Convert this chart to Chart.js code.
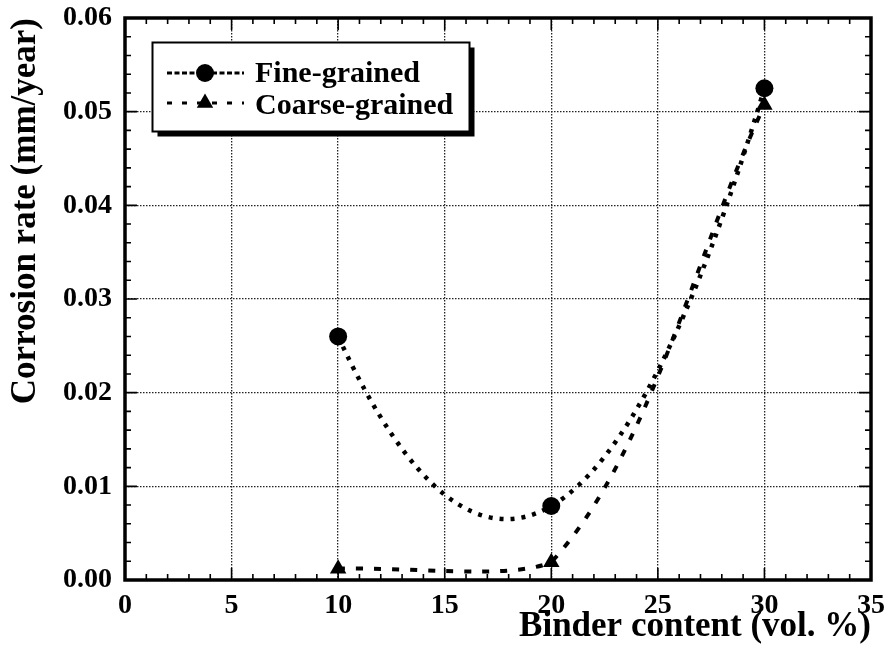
<!DOCTYPE html>
<html lang="en">
<head>
<meta charset="UTF-8">
<title>Corrosion rate vs binder content</title>
<script src="https://cdn.jsdelivr.net/npm/chart.js"></script>
<style>
  html, body { margin: 0; background: #fff; }
  #wrap { width: 889px; height: 662px; }
</style>
</head>
<body>
<div id="wrap"><canvas id="chart" width="889" height="662"></canvas></div>
<script>
  // measured corrosion rates (mm/year) against binder content (vol. %)
  const binder = [10, 20, 30];
  const fineRate = [0.0260, 0.0079, 0.0525];
  const coarseRate = [0.0012, 0.0019, 0.0507];
  const seriesNames = ['Fine-grained', 'Coarse-grained'];
  const xTicks = [0, 5, 10, 15, 20, 25, 30, 35];
  const yTicks = [0, 0.01, 0.02, 0.03, 0.04, 0.05, 0.06];

  const serif = "'Liberation Serif', 'Times New Roman', Times, serif";

  // fine curve: tangent at inner points from the neighbours, end spans as parabolas
  const evenSpline = {
    id: 'evenSpline',
    beforeDatasetDraw(chart, args) {
      if (!chart.data.datasets[args.index].evenSpline) return;
      args.meta.dataset.updateControlPoints(chart.chartArea, 'x');
      const p = args.meta.data;
      const n = p.length;
      if (n < 3) return;
      for (let i = 1; i < n - 1; i++) {
        const m = (p[i + 1].y - p[i - 1].y) / (p[i + 1].x - p[i - 1].x);
        const hl = (p[i].x - p[i - 1].x) / 3;
        const hr = (p[i + 1].x - p[i].x) / 3;
        p[i].cp1x = p[i].x - hl; p[i].cp1y = p[i].y - m * hl;
        p[i].cp2x = p[i].x + hr; p[i].cp2y = p[i].y + m * hr;
      }
      const endCp = (end, nb, cpx, cpy) => {
        const qx = nb.x + 1.5 * (cpx - nb.x);
        const qy = nb.y + 1.5 * (cpy - nb.y);
        return [end.x + (qx - end.x) * 2 / 3, end.y + (qy - end.y) * 2 / 3];
      };
      [p[0].cp2x, p[0].cp2y] = endCp(p[0], p[1], p[1].cp1x, p[1].cp1y);
      [p[n - 1].cp1x, p[n - 1].cp1y] = endCp(p[n - 1], p[n - 2], p[n - 2].cp2x, p[n - 2].cp2y);
    }
  };

  // heavy frame with inward major/minor ticks on all four sides
  const frameTicks = {
    id: 'frameTicks',
    beforeDatasetsDraw(chart) {
      const { ctx, chartArea: a, scales: { x, y } } = chart;
      ctx.save();
      ctx.strokeStyle = '#000';
      ctx.lineWidth = 1.6;
      ctx.beginPath();
      for (let k = 0; k <= 35; k++) {
        const px = x.getPixelForValue(k);
        const len = k % 5 === 0 ? 12 : 6;
        ctx.moveTo(px, a.bottom); ctx.lineTo(px, a.bottom - len);
        ctx.moveTo(px, a.top); ctx.lineTo(px, a.top + len);
      }
      for (let k = 0; k <= 30; k++) {
        const py = y.getPixelForValue(k * 0.002);
        const len = k % 5 === 0 ? 12 : 6;
        ctx.moveTo(a.left, py); ctx.lineTo(a.left + len, py);
        ctx.moveTo(a.right, py); ctx.lineTo(a.right - len, py);
      }
      ctx.stroke();
      ctx.lineWidth = 3.5;
      ctx.strokeRect(a.left, a.top, a.right - a.left, a.bottom - a.top);
      ctx.restore();
    }
  };

  function marker(ctx, style, x, y, r) {
    ctx.beginPath();
    if (style === 'triangle') {
      ctx.moveTo(x, y - r);
      ctx.lineTo(x + r * Math.sin(2 * Math.PI / 3), y - r * Math.cos(2 * Math.PI / 3));
      ctx.lineTo(x + r * Math.sin(4 * Math.PI / 3), y - r * Math.cos(4 * Math.PI / 3));
      ctx.closePath();
    } else {
      ctx.arc(x, y, r, 0, Math.PI * 2);
    }
    ctx.fill();
  }

  // boxed legend with a drop shadow
  const boxLegend = {
    id: 'boxLegend',
    afterDraw(chart) {
      const ctx = chart.ctx;
      const bx = 152.5, by = 42.5, bw = 317, bh = 89;
      const rows = [
        { y: 73, dash: [5, 2.5], base: 82 },
        { y: 103, dash: [5, 10], base: 114 }
      ];
      ctx.save();
      ctx.fillStyle = '#000';
      ctx.fillRect(bx + 5, by + 5, bw, bh);
      ctx.fillStyle = '#fff';
      ctx.fillRect(bx, by, bw, bh);
      ctx.strokeStyle = '#000';
      ctx.lineWidth = 2;
      ctx.strokeRect(bx, by, bw, bh);
      chart.data.datasets.forEach((ds, i) => {
        const row = rows[i];
        ctx.strokeStyle = ds.borderColor;
        ctx.lineWidth = 3;
        ctx.setLineDash(row.dash);
        ctx.beginPath();
        ctx.moveTo(167, row.y);
        ctx.lineTo(244, row.y);
        ctx.stroke();
        ctx.setLineDash([]);
        ctx.fillStyle = ds.backgroundColor;
        marker(ctx, ds.pointStyle, 205, row.y, ds.pointRadius);
        ctx.fillStyle = '#000';
        ctx.font = 'bold 30px ' + serif;
        ctx.textAlign = 'left';
        ctx.textBaseline = 'alphabetic';
        ctx.fillText(ds.label, 255, row.base);
      });
      ctx.restore();
    }
  };

  const tickFont = { family: serif, size: 28, weight: 'bold' };
  const titleFont = { family: serif, size: 35, weight: 'bold', lineHeight: 1 };

  new Chart(document.getElementById('chart'), {
    type: 'line',
    data: {
      datasets: [
        {
          label: seriesNames[0],
          data: binder.map((x, i) => ({ x: x, y: fineRate[i] })),
          borderColor: '#000',
          backgroundColor: '#000',
          borderWidth: 4.5,
          borderDash: [4, 7],
          pointStyle: 'circle',
          pointRadius: 9,
          pointBorderWidth: 0,
          tension: 0.4,
          evenSpline: true
        },
        {
          label: seriesNames[1],
          data: binder.map((x, i) => ({ x: x, y: coarseRate[i] })),
          borderColor: '#000',
          backgroundColor: '#000',
          borderWidth: 4,
          borderDash: [7, 11],
          pointStyle: 'triangle',
          pointRadius: 9.5,
          pointBorderWidth: 0,
          tension: 0.33
        }
      ]
    },
    options: {
      responsive: false,
      animation: false,
      layout: { padding: { left: 0, right: 18, top: 18, bottom: 0 } },
      plugins: { legend: { display: false }, tooltip: { enabled: false } },
      scales: {
        x: {
          type: 'linear',
          min: 0,
          max: 35,
          afterBuildTicks: s => { s.ticks = xTicks.map(v => ({ value: v })); },
          afterFit: s => { s.height = 82; s.paddingLeft = 0; s.paddingRight = 0; },
          ticks: { color: '#000', font: tickFont, padding: 9, maxRotation: 0, autoSkip: false },
          grid: { color: '#222', lineWidth: 1.3, drawTicks: false },
          border: { display: false, dash: [1.5, 1.5] },
          title: {
            display: true, text: 'Binder content (vol. %)', align: 'end', color: '#000',
            font: titleFont, padding: { top: 0, bottom: 18 }
          }
        },
        y: {
          min: 0,
          max: 0.06,
          afterBuildTicks: s => { s.ticks = yTicks.map(v => ({ value: v })); },
          afterFit: s => { s.width = 125; s.paddingTop = 0; s.paddingBottom = 0; },
          ticks: { color: '#000', font: tickFont, padding: 13, callback: v => v.toFixed(2) },
          grid: { color: '#222', lineWidth: 1.3, drawTicks: false },
          border: { display: false, dash: [1.5, 1.5] },
          title: {
            display: true, text: 'Corrosion rate (mm/year)', align: 'end', color: '#000',
            font: titleFont, padding: { top: 8, bottom: 0 }
          }
        }
      }
    },
    plugins: [evenSpline, frameTicks, boxLegend]
  });
</script>
</body>
</html>
